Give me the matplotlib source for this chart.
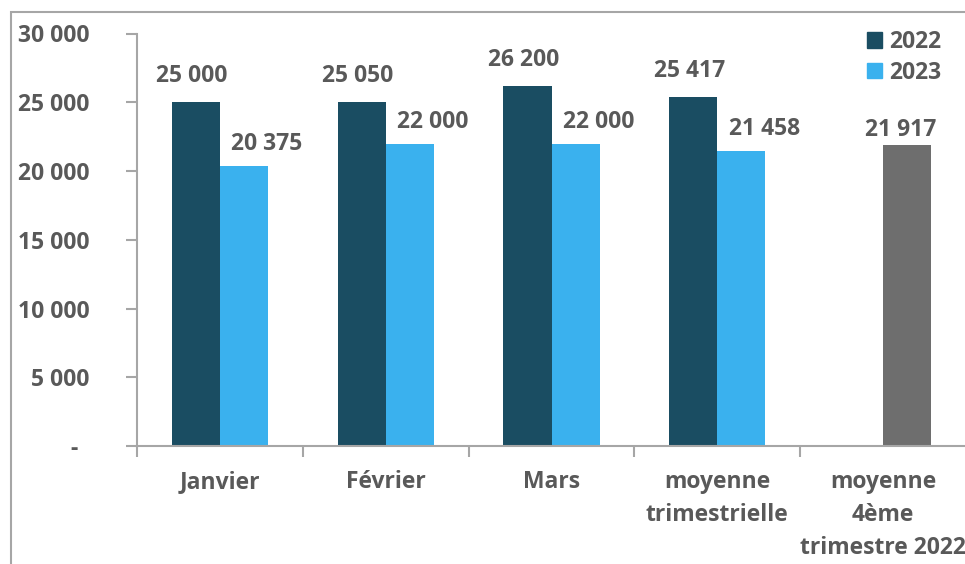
import matplotlib
matplotlib.use("Agg")
import matplotlib.pyplot as plt
import numpy as np
from matplotlib.patches import Rectangle, Patch
from matplotlib.transforms import ScaledTranslation

categories = ["Janvier", "Février", "Mars", "moyenne\ntrimestrielle", "moyenne\n4ème\ntrimestre 2022"]
series_2022 = [25000, 25050, 26200, 25417, None]
series_2023 = [20375, 22000, 22000, 21458, 21917]
labels_2022 = ["25 000", "25 050", "26 200", "25 417", None]
labels_2023 = ["20 375", "22 000", "22 000", "21 458", "21 917"]
yticks = [0, 5000, 10000, 15000, 20000, 25000, 30000]
ytick_labels = ["-", "5 000", "10 000", "15 000", "20 000", "25 000", "30 000"]

c2022 = "#1A4D62"
c2023 = "#3AB1EE"
cgray = "#6E6E6E"
tcol = "#595959"
axcol = "#A6A6A6"

plt.rcParams['font.family'] = ['Open Sans', 'DejaVu Sans']
plt.rcParams['font.weight'] = 'bold'
FS = 16.5
PX = 0.72  # points per pixel at 100 dpi

fig = plt.figure(figsize=(9.65, 5.64), dpi=100)
ax = fig.add_axes([137/965, 1-446/564, (966-137)/965, (446-33.5)/564])

# figure frame (cropped on right/bottom)
fig.patches.append(Rectangle((11/965, -0.1), 1.2, (564-12)/564 + 0.1, transform=fig.transFigure,
                             fill=False, edgecolor=axcol, linewidth=1.5, zorder=0))

x = np.arange(len(categories))
w = 0.29
for i in range(len(categories)):
    if series_2022[i] is not None:
        ax.bar(x[i] - w/2, series_2022[i], w, color=c2022, zorder=2)
        ax.annotate(labels_2022[i], (x[i] - w/2, series_2022[i]), xytext=(-4*PX, 20*PX),
                    textcoords="offset points", ha="center", va="baseline",
                    fontsize=FS, fontweight="bold", color=tcol)
        col, dx, dy = c2023, 23, 16
    else:
        col, dx, dy = cgray, -6, 9
    ax.bar(x[i] + w/2, series_2023[i], w, color=col, zorder=2)
    ax.annotate(labels_2023[i], (x[i] + w/2, series_2023[i]), xytext=(dx*PX, dy*PX),
                textcoords="offset points", ha="center", va="baseline",
                fontsize=FS, fontweight="bold", color=tcol)

ax.set_xlim(-0.5, len(categories) - 0.5)
ax.set_ylim(0, 30000)
ax.set_yticks(yticks)
ax.set_yticklabels(ytick_labels)
ax.set_xticks(x)
ax.set_xticklabels(categories, linespacing=1.5)
ax.set_xticks(np.arange(len(categories)) - 0.5, minor=True)

for s in ["top", "right"]:
    ax.spines[s].set_visible(False)
for s in ["left", "bottom"]:
    ax.spines[s].set_color(axcol)
    ax.spines[s].set_linewidth(1.5)

ax.tick_params(axis="y", which="major", length=8, width=1.5, color=axcol, pad=26,
               labelsize=FS, labelcolor=tcol)
ax.tick_params(axis="x", which="major", length=0, pad=17, labelsize=FS, labelcolor=tcol)
ax.tick_params(axis="x", which="minor", length=8, width=1.5, color=axcol)
for lab in ax.get_yticklabels():
    lab.set_fontweight("bold")
for lab in ax.get_xticklabels():
    lab.set_fontweight("bold")
    lab.set_verticalalignment("top")

zero_lab = ax.get_yticklabels()[0]
zero_lab.set_transform(zero_lab.get_transform() + ScaledTranslation(-12/100, 0, fig.dpi_scale_trans))

# legend
handles = [Patch(color=c2022, label="2022"), Patch(color=c2023, label="2023")]
leg = fig.legend(handles=handles, loc="upper left", bbox_to_anchor=(867/965, 1-30/564),
                 frameon=False, fontsize=FS, handlelength=0.65, handleheight=0.65,
                 handletextpad=0.3, labelspacing=0.3, borderaxespad=0, borderpad=0)
for t in leg.get_texts():
    t.set_color(tcol)
    t.set_fontweight("bold")

fig.savefig("out.png", dpi=100)
